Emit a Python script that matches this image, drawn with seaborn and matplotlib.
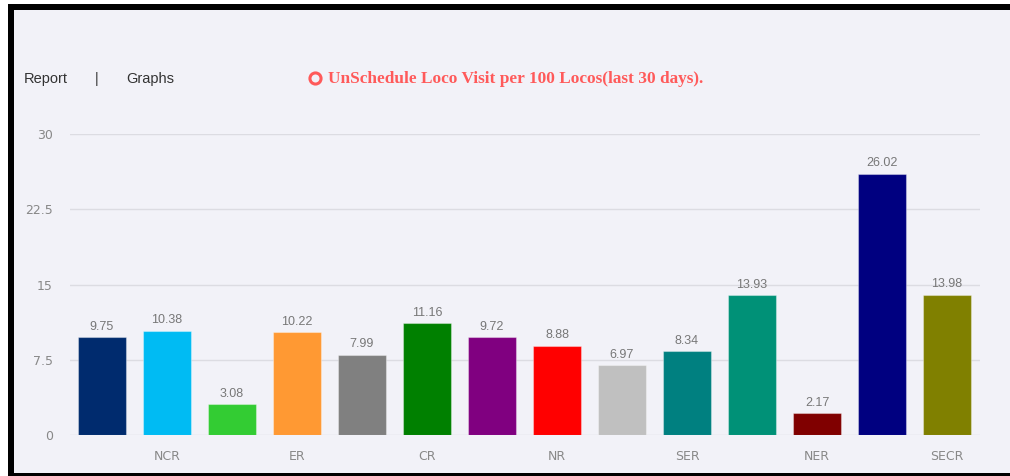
import seaborn as sns, matplotlib.pyplot as plt
import pandas as pd
from matplotlib.patches import Rectangle
from matplotlib.lines import Line2D

# 数据
zones = ["Z1", "NCR", "Z3", "ER", "Z5", "CR", "Z7", "NR", "Z9", "SER", "Z11", "NER", "Z13", "SECR"]
tick_labels = ["", "NCR", "", "ER", "", "CR", "", "NR", "", "SER", "", "NER", "", "SECR"]
visits = [9.75, 10.38, 3.08, 10.22, 7.99, 11.16, 9.72, 8.88, 6.97, 8.34, 13.93, 2.17, 26.02, 13.98]
bar_colors = ["#002b6e", "#00bbf3", "#33cc33", "#ff9933", "#808080", "#008000", "#800080",
              "#ff0000", "#c0c0c0", "#008080", "#009177", "#800000", "#000080", "#808000"]

df = pd.DataFrame({"zone": zones, "visits": visits})

W, H = 1010, 476
fig = plt.figure(figsize=(W / 100, H / 100), dpi=100, facecolor="white")

def px_rect(x0, y0, x1, y1, color):
    # 像素坐标 (左上原点) 转为 figure 坐标
    fig.add_artist(Rectangle((x0 / W, 1 - y1 / H), (x1 - x0) / W, (y1 - y0) / H,
                             transform=fig.transFigure, color=color, lw=0, zorder=0))

px_rect(14, 10, W, 473, "#f2f2f8")   # 背景
px_rect(8, 4, W, 10, "black")        # 上边框
px_rect(8, 4, 14, H, "black")        # 左边框
px_rect(8, 473, W, H, "black")       # 下边框

ax = fig.add_axes([69.5 / W, 41 / H, 910 / W, 301 / H])
ax.set_facecolor("none")

sns.barplot(data=df, x="zone", y="visits", order=zones, hue="zone", palette=bar_colors,
            saturation=1, legend=False, width=0.74, ax=ax, zorder=3)
for p in ax.patches:
    p.set_edgecolor((1, 1, 1, 0.35))
    p.set_linewidth(0.8)

ax.set_ylim(0, 30)
ax.set_xlim(-0.5, len(zones) - 0.5)
ax.set_yticks([0, 7.5, 15, 22.5, 30])
ax.set_yticklabels(["0", "7.5", "15", "22.5", "30"])
ax.set_xticks(range(len(zones)))
ax.set_xticklabels(tick_labels)
ax.tick_params(axis="both", length=0, colors="#888888", labelsize=9)
ax.tick_params(axis="y", pad=12)
ax.tick_params(axis="x", pad=11)
ax.grid(axis="y", color="#dcdce2", lw=1, zorder=0)
ax.set_axisbelow(True)
for s in ax.spines.values():
    s.set_visible(False)
ax.set_xlabel("")
ax.set_ylabel("")

# 数值标签
for i, v in enumerate(visits):
    ax.text(i, v + 0.45, f"{v:.2f}", ha="center", va="bottom", fontsize=9, color="#777777",
            family="Liberation Sans")

# 顶部文字
fig.text(24 / W, 1 - 79 / H, "Report", fontsize=10.5, color="#333333", va="center",
         family="Liberation Sans")
fig.text(97 / W, 1 - 79 / H, "|", fontsize=10.5, color="#333333", va="center", ha="center",
         family="Liberation Sans")
fig.text(126 / W, 1 - 79 / H, "Graphs", fontsize=10.5, color="#333333", va="center",
         family="Liberation Sans")
fig.add_artist(Line2D([315 / W], [1 - 78 / H], transform=fig.transFigure, marker="o",
                      markersize=8, markerfacecolor="none", markeredgecolor="#ff5a5a",
                      markeredgewidth=2.2, linestyle="none"))
fig.text(328 / W, 1 - 79 / H, "UnSchedule Loco Visit per 100 Locos(last 30 days).",
         fontsize=12.4, color="#ff5a5a", va="center", weight="bold", family="Liberation Serif")

fig.savefig("out.png", dpi=100)
